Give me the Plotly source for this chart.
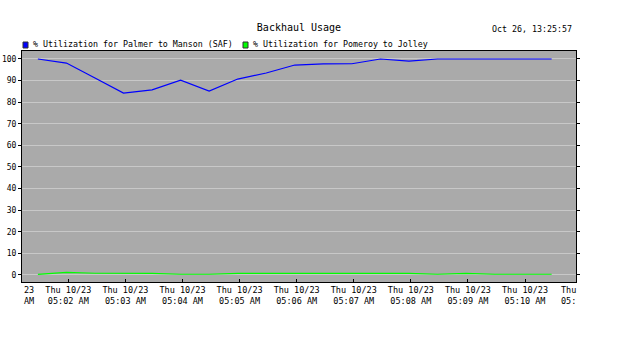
import plotly.graph_objects as go
import pandas as pd

# ---- data ----
start_time = "2025-10-23 05:01:28"
sample_count = 19
times = pd.date_range(start_time, periods=sample_count, freq="30s")

palmer_manson = [100, 98.1, 91.2, 84.2, 85.7, 90.2, 85.1, 90.7, 93.5, 97.2,
                 97.7, 97.8, 100, 99.0, 100, 100, 100, 100, 100]
pomeroy_jolley = [0.2, 1.2, 0.75, 0.75, 0.7, 0.3, 0.3, 0.7, 0.7, 0.7,
                  0.7, 0.7, 0.7, 0.7, 0.3, 0.7, 0.3, 0.3, 0.3]

series_names = ["% Utilization for Palmer to Manson (SAF)",
                "% Utilization for Pomeroy to Jolley"]
series_colors = ["#0000ff", "#00ff00"]

tick_times = pd.date_range("2025-10-23 05:02:00", periods=9, freq="60s")
tick_text = ["Thu 10/23<br>" + t.strftime("%I:%M %p") for t in tick_times]
y_ticks = list(range(0, 101, 10))

title_text = "Backhaul Usage"
stamp_text = "Oct 26, 13:25:57"

# ---- layout geometry (pixels) ----
W, H = 626, 343
L, R, T, B = 22, 576, 51, 282
def px(x):
    return (x - L) / (R - L)
def py(y):
    return (B - y) / (B - T)

FONT = "DejaVu Sans Mono"

fig = go.Figure()
for vals, name, col in zip([palmer_manson, pomeroy_jolley], series_names, series_colors):
    fig.add_trace(go.Scatter(x=times, y=vals, mode="lines", name=name,
                             line=dict(color=col, width=1.2), showlegend=False))

fig.update_layout(
    width=W, height=H,
    margin=dict(l=L, r=W - R, t=T, b=H - B, pad=0, autoexpand=False),
    paper_bgcolor="white",
    plot_bgcolor="#aaaaaa",
    font=dict(family=FONT, size=8, color="black"),
    title=dict(text=title_text, x=px(299), xanchor="center", xref="paper",
               y=1 - 27 / H, yref="container", yanchor="middle",
               font=dict(family=FONT, size=10, color="black")),
    xaxis=dict(
        type="date", automargin=False,
        range=["2025-10-23 05:01:11.3", "2025-10-23 05:10:53.6"],
        tickvals=list(tick_times), ticktext=tick_text,
        ticks="inside", ticklen=3, tickcolor="black",
        showline=True, linecolor="black", linewidth=1, mirror=True,
        showgrid=False, zeroline=False,
        tickfont=dict(family=FONT, size=8.5),
    ),
    yaxis=dict(
        automargin=False,
        range=[-3.3, 103.7],
        tickvals=y_ticks,
        ticks="outside", ticklen=3, tickcolor="black",
        showline=True, linecolor="black", linewidth=1, mirror="ticks",
        showgrid=True, gridcolor="#c8c8c8", gridwidth=1,
        zeroline=True, zerolinecolor="#c8c8c8", zerolinewidth=1,
        tickfont=dict(family=FONT, size=8),
    ),
)

# legend drawn manually
legend_items = [(23, 31), (243, 251)]
for (sx, tx), name, col in zip(legend_items, series_names, series_colors):
    fig.add_shape(type="rect", xref="paper", yref="paper",
                  x0=px(sx), x1=px(sx + 5), y0=py(48), y1=py(42),
                  fillcolor=col, line=dict(color="#333333", width=1))
    fig.add_annotation(xref="paper", yref="paper", x=px(tx), y=py(44.5),
                       text=name, showarrow=False, xanchor="left", yanchor="middle",
                       font=dict(family=FONT, size=8.3))

fig.add_annotation(xref="paper", yref="paper", x=px(574), y=py(29),
                   text=stamp_text, showarrow=False, xanchor="right", yanchor="middle",
                   font=dict(family=FONT, size=8.3))

# partially clipped edge tick labels
fig.add_annotation(xref="paper", yref="paper", x=px(22), y=py(283),
                   text="23<br>AM", showarrow=False, xanchor="left", yanchor="top",
                   align="left", font=dict(family=FONT, size=8.5))
fig.add_annotation(xref="paper", yref="paper", x=px(559), y=py(283),
                   text="Thu<br>05:", showarrow=False, xanchor="left", yanchor="top",
                   align="left", font=dict(family=FONT, size=8.5))

fig.write_html("out.html")
